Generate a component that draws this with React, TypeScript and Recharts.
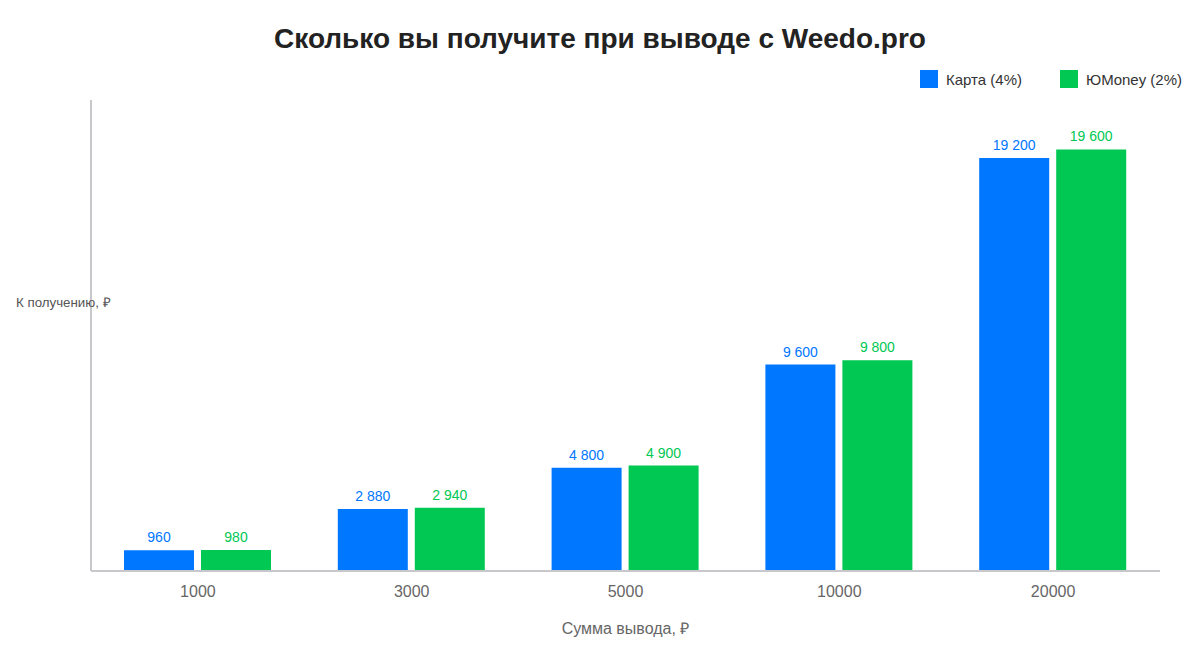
import React from "react";
import { BarChart, Bar, XAxis, YAxis, LabelList, Label } from "recharts";

const amounts = ["1000", "3000", "5000", "10000", "20000"];
const cardValues = [960, 2880, 4800, 9600, 19200];
const yoomoneyValues = [980, 2940, 4900, 9800, 19600];

const BLUE = "#0077FF";
const GREEN = "#00C853";
const AXIS = "#c8c8cc";
const FONT = '"Liberation Sans", Arial, sans-serif';

const data = amounts.map((amount, i) => ({
  amount,
  card: cardValues[i],
  yoomoney: yoomoneyValues[i],
}));

const legendItems = [
  { label: "Карта (4%)", color: BLUE },
  { label: "ЮMoney (2%)", color: GREEN },
];

function fmt(v: number | string): string {
  return String(v).replace(/\B(?=(\d{3})+(?!\d))/g, " ");
}

function LegendBox() {
  return (
    <div
      style={{
        position: "absolute",
        top: 70,
        left: 920,
        display: "flex",
        fontSize: 15,
        color: "#333",
      }}
    >
      {legendItems.map((item) => (
        <div key={item.label} style={{ display: "flex", alignItems: "center", width: 140, height: 18 }}>
          <span
            style={{
              display: "inline-block",
              width: 18,
              height: 18,
              background: item.color,
              marginRight: 8,
            }}
          />
          {item.label}
        </div>
      ))}
    </div>
  );
}

export default function App() {
  return (
    <div style={{ position: "relative", width: 1200, height: 660, background: "#fff", fontFamily: FONT }}>
      <style>{`body{margin:0}`}</style>
      <div
        style={{
          position: "absolute",
          top: 23,
          left: 0,
          width: 1200,
          textAlign: "center",
          fontSize: 28,
          fontWeight: 700,
          color: "#222",
        }}
      >
        Сколько вы получите при выводе с Weedo.pro
      </div>
      <LegendBox />
      <BarChart
        width={1200}
        height={660}
        data={data}
        margin={{ top: 100, right: 40, left: 90, bottom: 59 }}
        barSize={70}
        barGap={7}
        style={{ fontFamily: FONT }}
      >
        <XAxis
          dataKey="amount"
          height={30}
          tickLine={false}
          tickMargin={9}
          axisLine={{ stroke: AXIS, strokeWidth: 2 }}
          tick={{ fontSize: 16, fill: "#666" }}
        >
          <Label
            value="Сумма вывода, ₽"
            position="bottom"
            offset={22}
            style={{ fontSize: 16, fill: "#666" }}
          />
        </XAxis>
        <YAxis
          width={1}
          domain={[0, 21900]}
          tick={false}
          tickLine={false}
          axisLine={{ stroke: AXIS, strokeWidth: 2 }}
        >
          <Label
            content={() => (
              <text x={16} y={307} fontSize={13.3} fill="#555" fontFamily={FONT}>
                К получению, ₽
              </text>
            )}
          />
        </YAxis>
        <Bar dataKey="card" fill={BLUE} isAnimationActive={false}>
          <LabelList dataKey="card" position="top" offset={8} formatter={fmt} style={{ fontSize: 14, fill: BLUE }} />
        </Bar>
        <Bar dataKey="yoomoney" fill={GREEN} isAnimationActive={false}>
          <LabelList dataKey="yoomoney" position="top" offset={8} formatter={fmt} style={{ fontSize: 14, fill: GREEN }} />
        </Bar>
      </BarChart>
    </div>
  );
}
